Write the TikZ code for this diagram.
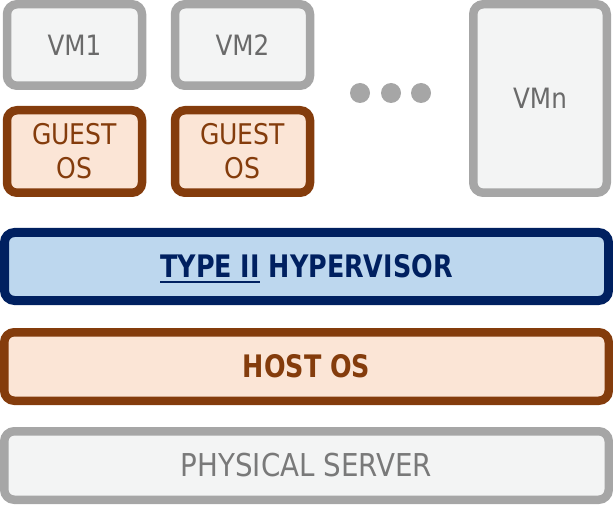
\documentclass[tikz,border=0pt]{standalone}
\usepackage{fontspec}
\setmainfont{DejaVu Sans}[FakeStretch=0.88,BoldFeatures={FakeStretch=0.82}]
\definecolor{vmgray}{HTML}{A6A6A6}
\definecolor{vmfill}{HTML}{F3F4F4}
\definecolor{vmtext}{HTML}{6A6A6A}
\definecolor{osbrown}{HTML}{843C0C}
\definecolor{ospeach}{HTML}{FBE5D6}
\definecolor{hvnavy}{HTML}{002060}
\definecolor{hvblue}{HTML}{BDD7EE}
\newcommand\typeline[1]{\setbox0\hbox{#1}\rlap{\smash{\rule[-5pt]{\wd0}{2pt}}}\box0\relax}
\tikzset{
	layer/.style={rounded corners=10pt, line width=8.5pt, inner sep=0pt, align=center},
	vmbox/.style={layer, draw=vmgray, fill=vmfill, text=vmtext, font=\fontsize{28}{32}\selectfont},
	guestbox/.style={layer, draw=osbrown, fill=ospeach, text=osbrown, font=\fontsize{28.5}{34}\selectfont},
	hyperbox/.style={layer, line width=9pt, draw=hvnavy, fill=hvblue, text=hvnavy, font=\fontsize{31}{36}\selectfont\bfseries},
	hostbox/.style={layer, draw=osbrown, fill=ospeach, text=osbrown, font=\fontsize{31}{36}\selectfont\bfseries},
	serverbox/.style={layer, draw=vmgray, fill=vmfill, text=vmtext!90!white, font=\fontsize{31.5}{36}\selectfont},
	dotmark/.style={circle, fill=vmgray, inner sep=0pt, minimum size=20pt}
}

\begin{document}
\begin{tikzpicture}[x=1pt,y=-1pt]
				%%%%% START %%%%%
				\def\vmw{135}
				\def\vmh{81.5}
				\def\osh{82.5}
				\def\barw{604.5}
				\def\barh{68.5}
				\useasboundingbox (0,0) rectangle (613,505);

				% virtual machines
				\node[vmbox, minimum width=\vmw, minimum height=\vmh] (vmone) at (74.5,45) {VM1};
				\node[vmbox, minimum width=\vmw, minimum height=\vmh] (vmtwo) at (242.5,45) {VM2};
				\node[vmbox, minimum width=133.5, minimum height=188.5] (vmn) at (540,98.5) {VMn};

				\node[guestbox, minimum width=\vmw, minimum height=\osh] (guestone) at (74.5,151.5) {GUEST\\OS};
				\node[guestbox, minimum width=\vmw, minimum height=\osh] (guesttwo) at (242.5,151.5) {GUEST\\OS};

				\foreach \dx [count=\i] in {360,391,421}
					\node[dotmark] (dot\i) at (\dx,93) {};

				% layers
				\node[hyperbox, minimum width=604, minimum height=68] (hyper) at (306.5,266.5) {\typeline{TYPE II} HYPERVISOR};
				\node[hostbox, minimum width=\barw, minimum height=\barh] (host) at (306.5,366.5) {HOST OS};
				\node[serverbox, minimum width=\barw, minimum height=\barh] (server) at (306.5,465.5) {PHYSICAL SERVER};
				%%%%% START %%%%%
\end{tikzpicture}
\end{document}
